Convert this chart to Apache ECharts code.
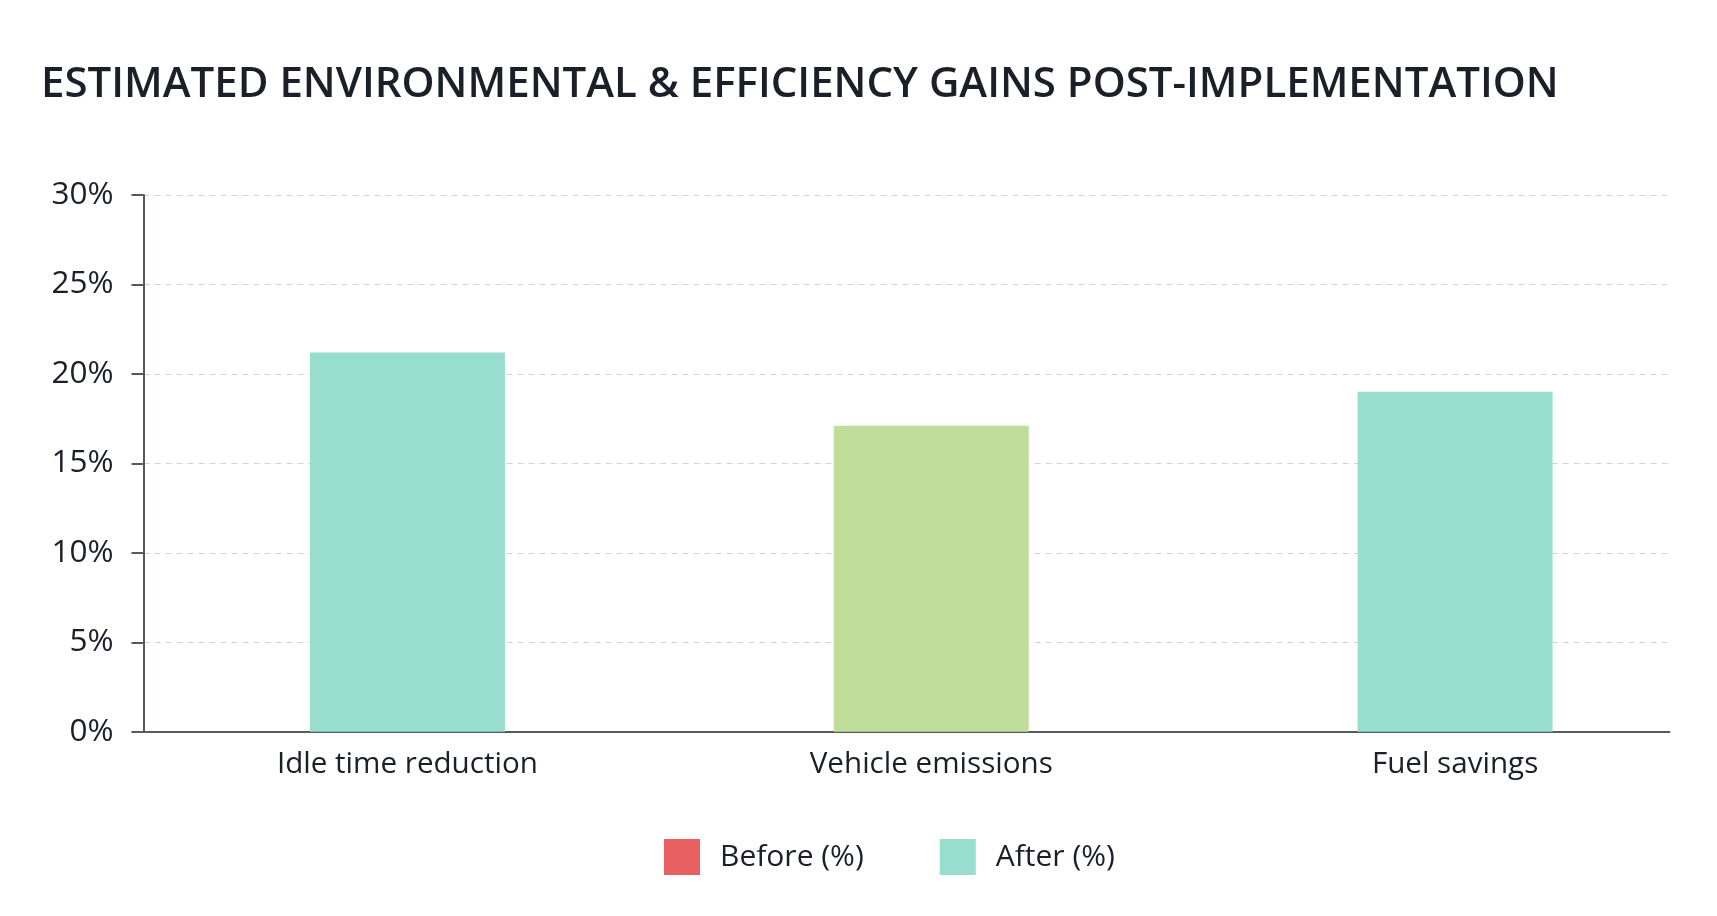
<!DOCTYPE html>
<html>
<head>
<meta charset="utf-8">
<script src="https://cdn.jsdelivr.net/npm/echarts@6/dist/echarts.min.js"></script>
<style>
  html, body { margin: 0; padding: 0; background: #ffffff; }
  #chart { width: 1717px; height: 916px; }
</style>
</head>
<body>
<div id="chart"></div>
<script>
// data
var categories = ['Idle time reduction', 'Vehicle emissions', 'Fuel savings'];
var beforeValues = [null, null, null];
var afterValues = [21.2, 17.1, 19.0];
var barColors = ['#97dece', '#c0dd9a', '#97dece'];
var yTicks = [0, 5, 10, 15, 20, 25, 30];

var textColor = '#1b1f27';
var font = 'Open Sans';

var chart = echarts.init(document.getElementById('chart'));

chart.setOption({
    backgroundColor: '#ffffff',
    title: {
        text: 'ESTIMATED ENVIRONMENTAL & EFFICIENCY GAINS POST-IMPLEMENTATION',
        left: 36,
        top: 59,
        textStyle: { color: textColor, fontFamily: font, fontSize: 42, fontWeight: 600 }
    },
    legend: {
        left: 659,
        top: 834,
        itemWidth: 36,
        itemHeight: 36,
        itemGap: 76,
        icon: 'rect',
        textStyle: { color: textColor, fontFamily: font, fontSize: 30, padding: [0, 0, 0, 15] },
        data: ['Before (%)', 'After (%)']
    },
    grid: [
        // axes frame
        { left: 143.5, right: 47.5, top: 195, bottom: 184.3 },
        // bars
        { left: 145.5, width: 1575, top: 195, bottom: 184.3 }
    ],
    xAxis: [
        {
            type: 'category',
            gridIndex: 0,
            data: categories,
            axisLine: { lineStyle: { color: '#555a60', width: 2 } },
            axisTick: { show: false },
            axisLabel: { show: false }
        },
        {
            type: 'category',
            gridIndex: 1,
            data: categories,
            axisLine: { show: false },
            axisTick: { show: false },
            axisLabel: { color: textColor, fontFamily: font, fontSize: 29.6, margin: 18 }
        }
    ],
    yAxis: [
        {
            type: 'value',
            gridIndex: 0,
            min: yTicks[0],
            max: yTicks[yTicks.length - 1],
            interval: 5,
            axisLine: { show: true, lineStyle: { color: '#555a60', width: 2 } },
            axisTick: { show: true, length: 12, lineStyle: { color: '#555a60', width: 2 } },
            axisLabel: { color: textColor, fontFamily: font, fontSize: 31.5, margin: 30, formatter: '{value}%' },
            splitLine: { lineStyle: { color: '#cfd3d6', type: [6, 5], width: 1 } }
        },
        {
            type: 'value',
            gridIndex: 1,
            min: yTicks[0],
            max: yTicks[yTicks.length - 1],
            interval: 5,
            show: false,
            splitLine: { show: false }
        }
    ],
    series: [
        {
            name: 'Before (%)',
            type: 'bar',
            xAxisIndex: 0,
            yAxisIndex: 0,
            itemStyle: { color: '#e86062' },
            data: beforeValues
        },
        {
            name: 'After (%)',
            type: 'bar',
            xAxisIndex: 1,
            yAxisIndex: 1,
            barWidth: 195,
            itemStyle: { color: '#97dece' },
            data: afterValues.map(function (v, i) {
                return { value: v, itemStyle: { color: barColors[i] } };
            })
        }
    ]
});
</script>
</body>
</html>
